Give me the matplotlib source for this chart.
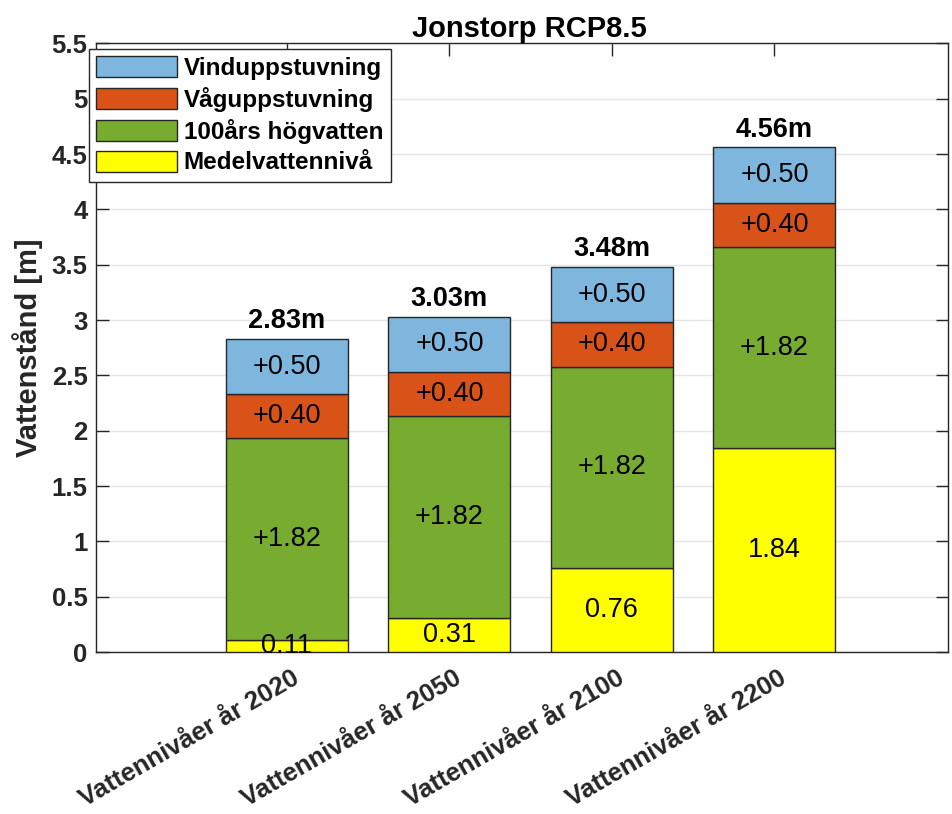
import numpy as np
import matplotlib.pyplot as plt
from matplotlib.transforms import ScaledTranslation

plt.rcParams['font.family'] = ['Liberation Sans', 'DejaVu Sans']

# Data
categories = ['Vattennivåer år 2020', 'Vattennivåer år 2050',
              'Vattennivåer år 2100', 'Vattennivåer år 2200']
medel = [0.11, 0.31, 0.76, 1.84]
hogvatten = [1.82, 1.82, 1.82, 1.82]
vag = [0.40, 0.40, 0.40, 0.40]
vind = [0.50, 0.50, 0.50, 0.50]
series_names = ['Medelvattennivå', '100års högvatten', 'Våguppstuvning', 'Vinduppstuvning']
series_colors = ['#FFFF00', '#77AC30', '#D95319', '#7EB6DE']
y_ticks = np.arange(0, 5.51, 0.5)

axis_col = '#262626'

fig = plt.figure(figsize=(9.53, 8.14), dpi=100)
ax = fig.add_axes([0.1007, 0.199, 0.894, 0.7476])

x = np.arange(1, len(categories) + 1)
layers = [medel, hogvatten, vag, vind]
bottom = np.zeros(len(categories))
handles = []
for i, (vals, name, col) in enumerate(zip(layers, series_names, series_colors)):
    vals = np.array(vals)
    bars = ax.bar(x, vals, width=0.75, bottom=bottom, color=col,
                  edgecolor=axis_col, linewidth=1.0, label=name, zorder=3)
    handles.append(bars)
    for xi, b, v in zip(x, bottom, vals):
        txt = f'{v:.2f}' if i == 0 else f'+{v:.2f}'
        ax.text(xi, b + v / 2, txt, ha='center', va='center',
                fontsize=19.5, color='black', zorder=4)
    bottom = bottom + vals

# totals above bars
for xi, tot in zip(x, bottom):
    ax.text(xi, tot + 0.16, f'{tot:.2f}m', ha='center', va='center',
            fontsize=19.5, fontweight='bold', color='black', zorder=4)

ax.set_xlim(-0.175, 5.068)
ax.set_ylim(0, 5.5)
ax.set_yticks(y_ticks)
ax.set_yticklabels([f'{t:g}' for t in y_ticks], fontsize=18.5, fontweight='bold',
                   color=axis_col)
ax.set_xticks(x)
ax.set_xticklabels(categories, rotation=30, ha='right', va='center',
                   rotation_mode='anchor', fontsize=18.5, fontweight='bold',
                   color=axis_col)
ax.tick_params(axis='both', direction='in', length=9, width=1, color=axis_col,
               top=True, right=True)
ax.tick_params(axis='x', pad=20)
ax.tick_params(axis='y', pad=6)

# nudge rotated labels to the right like the original (after tick_params)
shift = ScaledTranslation(0.10, 0.03, fig.dpi_scale_trans)
for lab in ax.get_xticklabels():
    lab.set_transform(lab.get_transform() + shift)

ax.yaxis.grid(True, color='#E5E5E5', linewidth=1)
ax.set_axisbelow(True)
for s in ax.spines.values():
    s.set_color(axis_col)
    s.set_linewidth(1)

ax.set_ylabel('Vattenstånd [m]', fontsize=21, fontweight='bold', color=axis_col,
              labelpad=6)
ax.set_title('Jonstorp RCP8.5', fontsize=21, fontweight='bold', pad=5, x=0.509)

leg = ax.legend(handles[::-1], series_names[::-1], loc='upper left',
                bbox_to_anchor=(0.0934, 0.9398), bbox_transform=fig.transFigure,
                borderaxespad=0, fancybox=False, framealpha=1,
                edgecolor=axis_col, handlelength=3.3, handleheight=0.95,
                labelspacing=0.28, handletextpad=0.3, borderpad=0.3,
                prop={'size': 17.5, 'weight': 'bold'})
leg.get_frame().set_linewidth(1)

fig.savefig('out.png', dpi=100)
